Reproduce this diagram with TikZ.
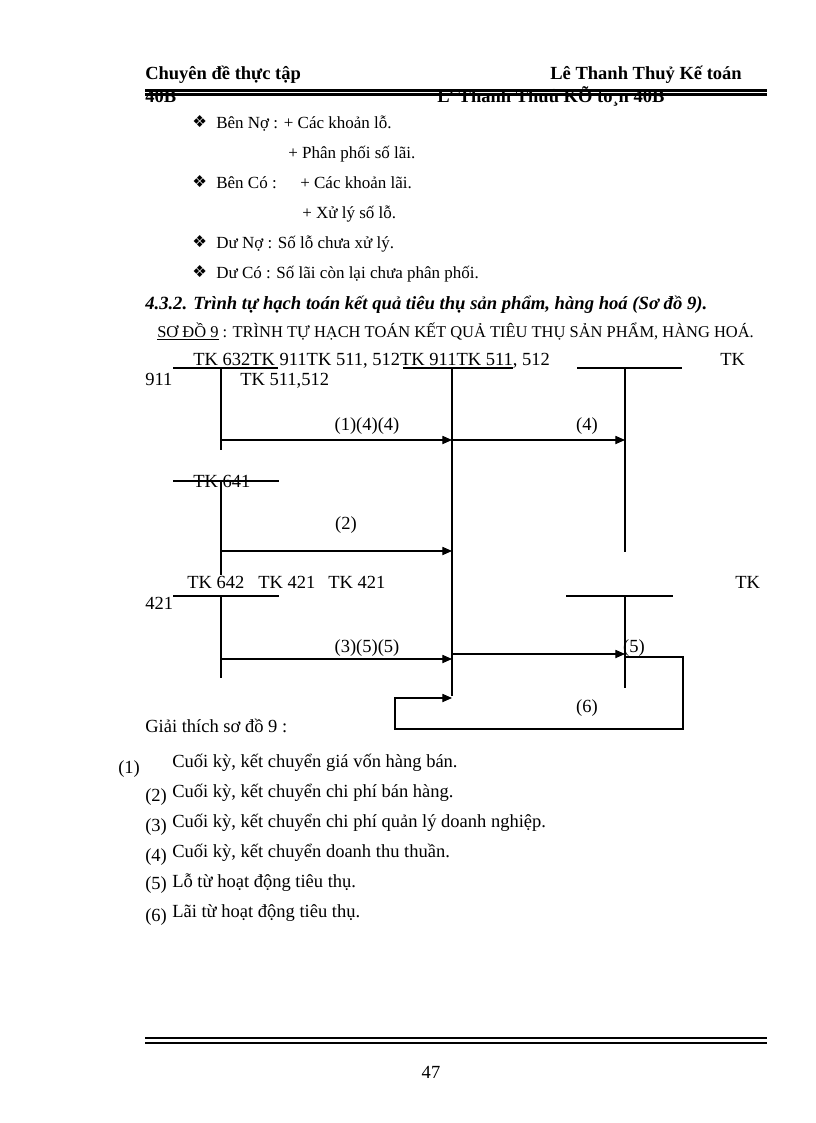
\documentclass[tikz,border=0pt]{standalone}
\usepackage{fontspec}
\setmainfont{Liberation Serif}
\newfontfamily\symfont{DejaVu Sans}
\usetikzlibrary{arrows.meta}

\tikzset{
  txt/.style={anchor=base west, inner sep=0pt, font=\fontsize{13.5}{15}\selectfont},
  ctxt/.style={anchor=base, inner sep=0pt, font=\fontsize{13.5}{15}\selectfont},
  btxt/.style={anchor=base west, inner sep=0pt, font=\fontsize{12.4}{14}\selectfont},
  bul/.style={anchor=base west, inner sep=0pt, font=\symfont\fontsize{12}{14}\selectfont},
  hdr/.style={anchor=base west, inner sep=0pt, font=\bfseries\fontsize{13.5}{15}\selectfont},
  acct/.style={line width=0.75pt},
  flow/.style={line width=0.75pt, -{Triangle[length=7pt,width=6pt]}},
  rule/.style={line width=1.5pt}
}

\begin{document}
\begin{tikzpicture}[x=0.7293pt, y=-0.7293pt]

            \useasboundingbox (0,0) rectangle (816,1123);

            % Header
            \node[hdr] (head1) at (145,79) {Chuyên đề thực tập};
            \node[hdr, anchor=base east] (head2) at (742,79) {Lê Thanh Thuỷ Kế toán};
            \node[hdr] (head3) at (145,102) {40B};
            \node[hdr] (head4) at (437,102) {L' Thanh Thuû KÕ to¸n 40B};
            \draw[rule] (145,90.5) -- (767,90.5); % Header rule
            \draw[rule] (145,94.5) -- (767,94.5); % Header rule

            % Bullets
            \node[bul] (b1) at (192,127) {❖};
            \node[btxt] (n1) at (216,128) {Bên Nợ : + Các khoản lỗ.};
            \node[btxt] (n2) at (288,158) {+ Phân phối số lãi.};
            \node[bul] (b2) at (192,187) {❖};
            \node[btxt] (c1) at (216,188) {Bên Có :};
            \node[btxt] (c2) at (300,188) {+ Các khoản lãi.};
            \node[btxt] (c3) at (302,218) {+ Xử lý số lỗ.};
            \node[bul] (b3) at (192,247) {❖};
            \node[btxt] (d1) at (216,248) {Dư Nợ : Số lỗ chưa xử lý.};
            \node[bul] (b4) at (192,277) {❖};
            \node[btxt] (d2) at (216,278) {Dư Có : Số lãi còn lại chưa phân phối.};

            % Headings
            \node[txt, font=\bfseries\itshape\fontsize{13.6}{15}\selectfont] (title) at (145,309) {4.3.2. Trình tự hạch toán kết quả tiêu thụ sản phẩm, hàng hoá (Sơ đồ 9).};
            \node[txt, font=\fontsize{12}{14}\selectfont] (sub) at (157,337) {\underline{SƠ ĐỒ 9} : TRÌNH TỰ HẠCH TOÁN KẾT QUẢ TIÊU THỤ SẢN PHẨM, HÀNG HOÁ.};

            % Account names
            \node[txt] (row1) at (193,365) {TK 632TK 911TK 511, 512TK 911TK 511, 512};
            \node[txt] (tkA) at (720,365) {TK};
            \node[txt] (tkB) at (145,385) {911};
            \node[txt] (tkC) at (240,385) {TK 511,512};
            \node[txt] (tk641) at (193,487) {TK 641};
            \node[txt] (tk642) at (187,588) {TK 642};
            \node[txt] (tk421a) at (258,588) {TK 421};
            \node[txt] (tk421b) at (328,588) {TK 421};
            \node[txt] (tkD) at (735,588) {TK};
            \node[txt] (tkE) at (145,609) {421};

            % T-account points
            \coordinate (L1t) at (221,368); \coordinate (L1b) at (221,450);
            \coordinate (L2t) at (221,481); \coordinate (L2b) at (221,575);
            \coordinate (L3t) at (221,596); \coordinate (L3b) at (221,678);
            \coordinate (Mt) at (452,368);  \coordinate (Mb) at (452,696);
            \coordinate (R1t) at (625,368); \coordinate (R1b) at (625,552);
            \coordinate (R2t) at (625,596); \coordinate (R2b) at (625,688);

            % T-account bars
            \draw[acct] (173,368) -- (278,368); % TK 632
            \draw[acct] (403,368) -- (513,368); % TK 911
            \draw[acct] (577,368) -- (682,368); % TK 511, 512
            \draw[acct] (173,481) -- (279,481); % TK 641
            \draw[acct] (173,596) -- (279,596); % TK 642
            \draw[acct] (566,596) -- (673,596); % TK 421

            % T-account stems
            \draw[acct] (L1t) -- (L1b);
            \draw[acct] (L2t) -- (L2b);
            \draw[acct] (L3t) -- (L3b);
            \draw[acct] (Mt) -- (Mb);
            \draw[acct] (R1t) -- (R1b);
            \draw[acct] (R2t) -- (R2b);

            % Flows
            \coordinate (a1) at (221,440); \coordinate (a1e) at (452,440);
            \coordinate (a4) at (452,440); \coordinate (a4e) at (625,440);
            \coordinate (a2) at (221,551); \coordinate (a2e) at (452,551);
            \coordinate (a3) at (221,659); \coordinate (a3e) at (452,659);
            \coordinate (a5) at (452,654); \coordinate (a5e) at (625,654);
            \coordinate (a6) at (625,657); \coordinate (a6e) at (452,698);
            \draw[flow] (a1) -- (a1e); % (1)(4)(4)
            \draw[flow] (a4) -- (a4e); % (4)
            \draw[flow] (a2) -- (a2e); % (2)
            \draw[flow] (a3) -- (a3e); % (3)(5)(5)
            \draw[flow] (a5) -- (a5e); % (5)
            \draw[flow] (a6) -- (683,657) -- (683,729) -- (395,729) -- (395,698) -- (a6e); % (6)

            % Flow labels
            \node[ctxt] (f1) at (367,430) {(1)(4)(4)};
            \node[ctxt] (f4) at (587,430) {(4)};
            \node[ctxt] (f2) at (346,529) {(2)};
            \node[ctxt] (f3) at (367,652) {(3)(5)(5)};
            \node[ctxt] (f5) at (634,652) {(5)};
            \node[ctxt] (f6) at (587,712) {(6)};

            % Notes
            \node[txt] (note) at (145,732) {Giải thích sơ đồ 9 :};
            \node[txt] (k1) at (118,773) {(1)};
            \node[txt] (e1) at (172,767) {Cuối kỳ, kết chuyển giá vốn hàng bán.};
            \node[txt] (k2) at (145,801) {(2)};
            \node[txt] (e2) at (172,797) {Cuối kỳ, kết chuyển chi phí bán hàng.};
            \node[txt] (k3) at (145,831) {(3)};
            \node[txt] (e3) at (172,827) {Cuối kỳ, kết chuyển chi phí quản lý doanh nghiệp.};
            \node[txt] (k4) at (145,861) {(4)};
            \node[txt] (e4) at (172,857) {Cuối kỳ, kết chuyển doanh thu thuần.};
            \node[txt] (k5) at (145,889) {(5)};
            \node[txt] (e5) at (172,887) {Lỗ từ hoạt động tiêu thụ.};
            \node[txt] (k6) at (145,921) {(6)};
            \node[txt] (e6) at (172,917) {Lãi từ hoạt động tiêu thụ.};

            % Footer
            \draw[rule] (145,1038) -- (767,1038); % Footer rule
            \draw[rule] (145,1043) -- (767,1043); % Footer rule
            \node[ctxt] (page) at (431,1078) {47};

\end{tikzpicture}
\end{document}
